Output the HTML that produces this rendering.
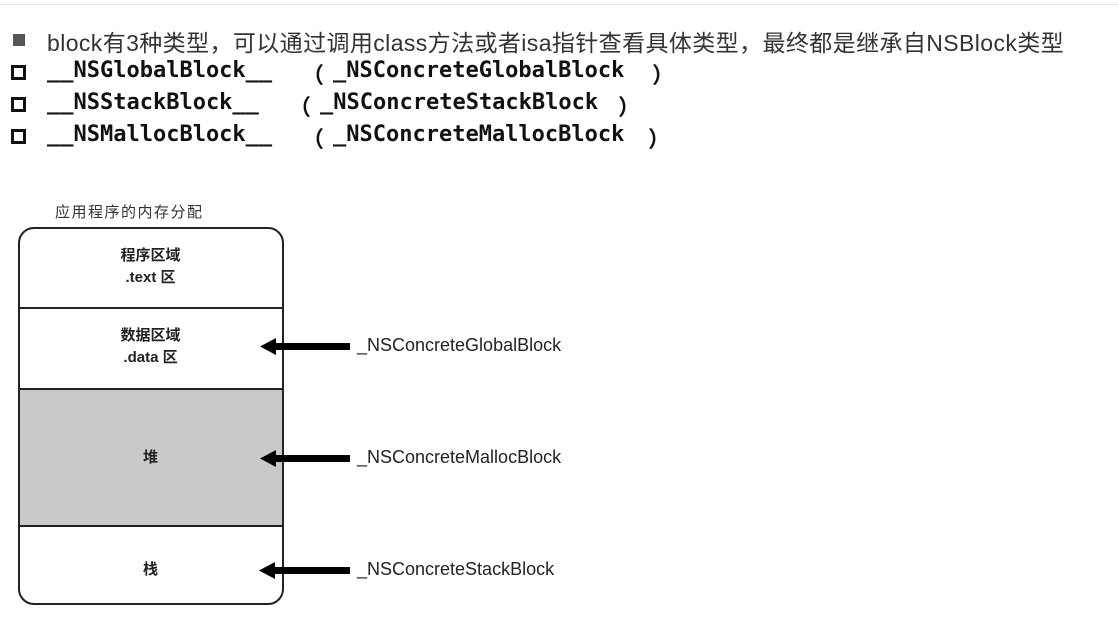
<!DOCTYPE html>
<html><head><meta charset="utf-8"><style>
body{margin:0;width:1118px;height:622px;background:#fff;position:relative;overflow:hidden;font-family:"Liberation Sans","Noto Sans CJK SC",sans-serif;color:#222}
.a{position:absolute;white-space:nowrap}
.m{font-family:"DejaVu Sans Mono","Liberation Mono","Noto Sans CJK SC",monospace;font-size:22px;color:#111;font-weight:bold;-webkit-text-stroke:0}
.sq{position:absolute;left:11px;width:9px;height:9px;border:3px solid #111}
.lbl{font-size:18px;letter-spacing:0px;color:#222}
.c{position:absolute;left:18px;width:265px;text-align:center;font-weight:bold;font-size:15px;color:#222;line-height:22px}
</style></head><body>
<div class="a" style="left:0;top:4px;width:1118px;height:1px;background:#e6e6e6"></div>
<div class="a" style="left:13px;top:34px;width:12px;height:12px;background:#555"></div>
<div class="a" style="left:47px;top:24px;font-size:23px;color:#333;letter-spacing:0.4px">block有3种类型，可以通过调用class方法或者isa指针查看具体类型，最终都是继承自NSBlock类型</div>

<div class="sq" style="top:65px"></div>
<div class="a m" style="left:47px;top:58px">__NSGlobalBlock__</div>
<div class="a m" style="left:302px;top:58px">（</div>
<div class="a m" style="left:333px;top:58px">_NSConcreteGlobalBlock</div>
<div class="a m" style="left:652px;top:58px">）</div>

<div class="sq" style="top:97px"></div>
<div class="a m" style="left:47px;top:90px">__NSStackBlock__</div>
<div class="a m" style="left:289px;top:90px">（</div>
<div class="a m" style="left:320px;top:90px">_NSConcreteStackBlock</div>
<div class="a m" style="left:618px;top:90px">）</div>

<div class="sq" style="top:129px"></div>
<div class="a m" style="left:47px;top:122px">__NSMallocBlock__</div>
<div class="a m" style="left:302px;top:122px">（</div>
<div class="a m" style="left:333px;top:122px">_NSConcreteMallocBlock</div>
<div class="a m" style="left:648px;top:122px">）</div>

<div class="a" style="left:55px;top:201px;font-size:15px;color:#333;letter-spacing:1.5px">应用程序的内存分配</div>

<div class="a" style="left:18px;top:227px;width:262px;height:374px;border:2px solid #222;border-radius:16px;overflow:hidden;background:#fff">
  <div class="a" style="left:0;top:78px;width:100%;height:2px;background:#222"></div>
  <div class="a" style="left:0;top:159px;width:100%;height:135px;background:#c9c9c9;border-top:2px solid #222;border-bottom:2px solid #222"></div>
</div>
<div class="c" style="top:245px">程序区域<br>.text 区</div>
<div class="c" style="top:325px">数据区域<br>.data 区</div>
<div class="c" style="top:447px">堆</div>
<div class="c" style="top:559px">栈</div>

<svg class="a" style="left:0;top:0" width="600" height="622">
<g fill="#000">
<rect x="272" y="343" width="78" height="7"/><polygon points="260,346.5 276,338 276,355"/>
<rect x="272" y="455" width="78" height="7"/><polygon points="260,458.5 276,450 276,467"/>
<rect x="272" y="567" width="78" height="7"/><polygon points="259,570.5 275,562 275,579"/>
</g></svg>
<div class="a lbl" style="left:357px;top:335px">_NSConcreteGlobalBlock</div>
<div class="a lbl" style="left:357px;top:447px">_NSConcreteMallocBlock</div>
<div class="a lbl" style="left:357px;top:559px">_NSConcreteStackBlock</div>
</body></html>
